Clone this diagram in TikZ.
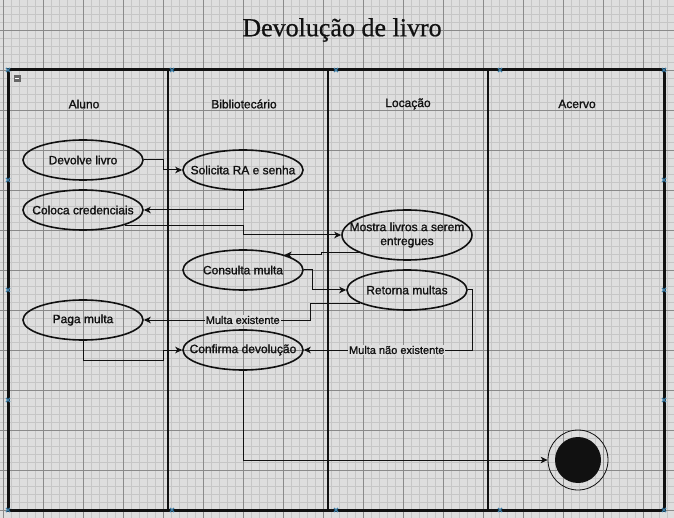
\documentclass[tikz,border=0pt]{standalone}
\usepackage{fontspec}
\setmainfont{Liberation Sans}[FakeBold=1.2]
\newfontfamily\titlefont{Liberation Serif}[FakeBold=0.6]
\usepackage{tikz}
\usetikzlibrary{arrows.meta,shapes.geometric,calc}
\definecolor{canvas}{HTML}{DEDEDE}
\definecolor{minorgrid}{HTML}{C6C6C6}
\definecolor{majorgrid}{HTML}{8A8A8A}
\definecolor{ink}{HTML}{111111}
\definecolor{handle}{HTML}{3B7EA8}
\tikzset{usecase/.style={ellipse,draw=ink,line width=1.6pt,minimum width=120pt,minimum height=40pt,inner xsep=-20pt,inner ysep=0pt,align=center,font=\fontsize{12}{14}\selectfont,text=ink}, lane/.style={font=\fontsize{12}{14}\selectfont,text=ink}, flow/.style={-{Stealth[length=7pt,width=6.5pt,inset=2pt]},line width=1pt,draw=ink}, rel/.style={font=\fontsize{11}{13}\selectfont,fill=canvas,inner sep=1pt,text=ink}}

\begin{document}
\begin{tikzpicture}[x=1pt,y=-1pt]
\useasboundingbox (0,0) rectangle (674,518);
\fill[canvas] (0,0) rectangle (674,518);
\foreach \gx in {3,11,...,674} \draw[minorgrid,line width=0.8pt] (\gx,0) -- (\gx,518);
\foreach \gy in {6,14,...,518} \draw[minorgrid,line width=0.8pt] (0,\gy) -- (674,\gy);
\foreach \gx in {3,43,...,674} \draw[majorgrid,line width=0.8pt] (\gx,0) -- (\gx,518);
\foreach \gy in {30,70,...,518} \draw[majorgrid,line width=0.8pt] (0,\gy) -- (674,\gy);

\node[font=\titlefont\fontsize{26}{29}\selectfont,text=ink] (title) at (342,30) {Devolução de livro};

\draw[ink,line width=3pt] (8,70) rectangle (664,510);
\foreach \lx in {168,328,488} \draw[ink,line width=2.5pt] (\lx,70) -- (\lx,510);
\fill[black!60] (13.5,75.5) rectangle (20.5,82.5);
\draw[white,line width=1pt] (15,79) -- (19,79);

\node[lane] (aluno) at (84,104) {Aluno};
\node[lane] (biblio) at (244,104) {Bibliotecário};
\node[lane] (locacao) at (408,104) {Locação};
\node[lane] (acervo) at (577,104) {Acervo};

\node[usecase] (dev) at (83,160) {Devolve livro};
\node[usecase] (sol) at (243,170) {Solicita RA e senha};
\node[usecase] (col) at (83,210) {Coloca credenciais};
\node[usecase,minimum width=130pt,minimum height=50pt] (mos) at (407,235) {Mostra livros a serem\\entregues};
\node[usecase] (con) at (243,270) {Consulta multa};
\node[usecase] (ret) at (407,290) {Retorna multas};
\node[usecase] (pag) at (83,320) {Paga multa};
\node[usecase] (conf) at (243,350) {Confirma devolução};
\node[circle,draw=ink,line width=0.8pt,minimum size=60pt,inner sep=0pt] (fin) at (578,460) {};
\node[circle,fill=ink,minimum size=46pt,inner sep=0pt] (finin) at (fin) {};

\draw[flow] (dev.east) -- ++(20,0) |- (sol.west);
\draw[flow] (sol.south) |- (col.east);
\draw[flow] (col.-20) -- (col.-20 -| sol.south) |- (mos.west);
\draw[flow] (mos.200) -- ++(-37,0) |- (con.20);
\draw[flow] (con.east) -- ++(9,0) |- (ret.west);
\draw[flow] (ret.196) -- ++(-49.5,0) |- node[rel,pos=0.704]{Multa existente} (pag.east);
\draw[flow] (ret.east) -- ++(5,0) |- node[rel,pos=0.725]{Multa não existente} (conf.east);
\draw[flow] (pag.south) |- ++(80,20) |- (conf.west);
\draw[flow] (conf.south) |- (fin.west);

\foreach \hx/\hy in {8/70,172/70,336/70,500/70,664/70,8/510,172/510,336/510,500/510,664/510,8/180,8/290,8/400,664/180,664/290,664/400}
  \draw[handle,line width=1.2pt] (\hx-2,\hy-2) -- (\hx+2,\hy+2) (\hx-2,\hy+2) -- (\hx+2,\hy-2);
\end{tikzpicture}
\end{document}
